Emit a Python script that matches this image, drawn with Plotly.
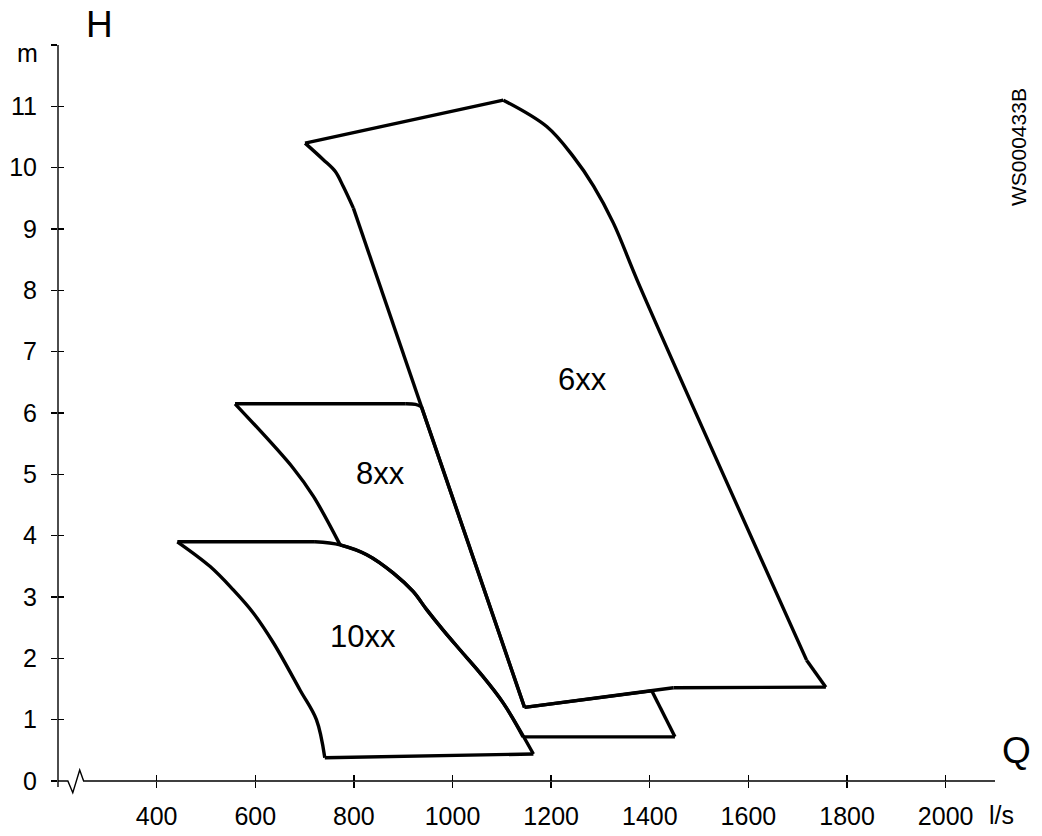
import plotly.graph_objects as go

# ---- data (Q in l/s, H in m) ----
Q_6XX = [701, 1103, 1191, 1245, 1286, 1326, 1380, 1718, 1757, 1448, 1146, 799, 778, 762, 738, 701]
H_6XX = [10.40, 11.10, 10.67, 10.18, 9.70, 9.10, 8.06, 1.97, 1.53, 1.52, 1.20, 9.34, 9.70, 9.94, 10.13, 10.40]
CORNERS_6XX = [0, 1, 7, 8, 9, 10, 11, 15]

Q_8XX = [559, 904, 925, 937, 1146, 1404, 1451, 1143, 1103, 1056, 1015, 981, 948, 920, 880, 826, 772, 718, 677, 559]
H_8XX = [6.15, 6.15, 6.14, 6.10, 1.20, 1.47, 0.72, 0.72, 1.27, 1.76, 2.14, 2.46, 2.79, 3.09, 3.39, 3.69, 3.85, 4.64, 5.10, 6.15]
CORNERS_8XX = [0, 1, 3, 4, 5, 6, 7, 16, 19]

Q_10XX = [442, 721, 772, 826, 880, 920, 948, 981, 1015, 1056, 1103, 1164, 741, 724, 691, 637, 596, 555, 508, 442]
H_10XX = [3.90, 3.90, 3.85, 3.69, 3.39, 3.09, 2.79, 2.46, 2.14, 1.76, 1.27, 0.44, 0.38, 1.00, 1.48, 2.25, 2.74, 3.12, 3.50, 3.90]
CORNERS_10XX = [0, 1, 11, 12, 19]

REGION_NAMES = ["6xx", "8xx", "10xx"]
LABEL_Q = [1263, 853, 819]
LABEL_H = [6.54, 5.02, 2.35]

X_TICKS = [400, 600, 800, 1000, 1200, 1400, 1600, 1800, 2000]
Y_TICKS = list(range(0, 13))
Y_TICK_TEXT = [str(v) for v in range(0, 12)] + [""]

# x-axis line with break symbol (Q values, vertical offsets in plot fraction)
AXIS_BREAK_Q = [220, 230, 244, 252]
AXIS_BREAK_Y = [0, -0.016, 0.015, 0]

X_RANGE = [200, 2100]
Y_RANGE = [0, 12]

FONT = "Liberation Sans, Arial, sans-serif"
LW = 3.4

fig = go.Figure()

for qs, hs, corners in [(Q_6XX, H_6XX, CORNERS_6XX),
                        (Q_8XX, H_8XX, CORNERS_8XX),
                        (Q_10XX, H_10XX, CORNERS_10XX)]:
    for a, b in zip(corners[:-1], corners[1:]):
        fig.add_trace(go.Scatter(x=qs[a:b + 1], y=hs[a:b + 1], mode="lines",
                                 line=dict(color="black", width=LW, shape="spline",
                                           smoothing=1.0),
                                 hoverinfo="skip", showlegend=False))

# invisible trace for overlay axes (inside ticks)
fig.add_trace(go.Scatter(x=[X_RANGE[0]], y=[Y_RANGE[0]], xaxis="x2", yaxis="y2",
                         mode="markers", marker=dict(opacity=0),
                         hoverinfo="skip", showlegend=False))

for name, q, h in zip(REGION_NAMES, LABEL_Q, LABEL_H):
    fig.add_annotation(x=q, y=h, text=name, showarrow=False,
                       xanchor="center", yanchor="middle",
                       font=dict(family=FONT, size=31, color="black"))

W_PLOT, H_PLOT = 937, 736
def px(xp):
    return (xp - 58) / W_PLOT
def py(yp):
    return (781 - yp) / H_PLOT

def paper_text(xp, yp, text, size, angle=0):
    fig.add_annotation(xref="paper", yref="paper", x=px(xp), y=py(yp), text=text,
                       showarrow=False, xanchor="center", yanchor="middle",
                       textangle=angle, font=dict(family=FONT, size=size, color="black"))

paper_text(99, 25, "H", 37)
paper_text(1016, 750, "Q", 37)
paper_text(27, 53, "m", 25)
paper_text(1001, 815, "l/s", 25)
paper_text(1018, 147, "WS000433B", 21, angle=-90)

# axis lines: x-axis with break, y-axis slightly below origin
path = f"M {X_RANGE[0]},0 " + " ".join(f"L {q},{y}" for q, y in zip(AXIS_BREAK_Q, AXIS_BREAK_Y)) \
       + f" L {X_RANGE[1]},0"
fig.add_shape(type="path", xref="x", yref="paper", path=path,
              line=dict(color="black", width=1.4))
fig.add_shape(type="line", xref="paper", yref="paper", x0=0, x1=0, y0=-0.008, y1=1,
              line=dict(color="black", width=1.4))

axis_common = dict(showgrid=False, zeroline=False, tickcolor="black", tickwidth=1.4,
                   ticklen=6, automargin=False, showline=False)

fig.update_layout(
    width=1042, height=836,
    margin=dict(l=58, r=47, t=45, b=55),
    paper_bgcolor="white", plot_bgcolor="white",
    font=dict(family=FONT, size=25, color="black"),
    hovermode=False,
    xaxis=dict(range=X_RANGE, tickvals=X_TICKS, ticks="outside",
               ticklabelstandoff=7, **axis_common),
    yaxis=dict(range=Y_RANGE, tickvals=Y_TICKS, ticktext=Y_TICK_TEXT, ticks="outside",
               ticklabelstandoff=9, **axis_common),
    xaxis2=dict(range=X_RANGE, tickvals=X_TICKS, ticks="inside", overlaying="x",
                anchor="y", showticklabels=False, **axis_common),
    yaxis2=dict(range=Y_RANGE, tickvals=Y_TICKS, ticks="inside", overlaying="y",
                anchor="x", showticklabels=False, **axis_common),
)

# remove the browser's default 8px body margin so the figure fills the window exactly
fig.write_html("out.html",
               config=dict(displayModeBar=False, staticPlot=True),
               post_script="document.body.style.margin='0';document.body.style.overflow='hidden';")
